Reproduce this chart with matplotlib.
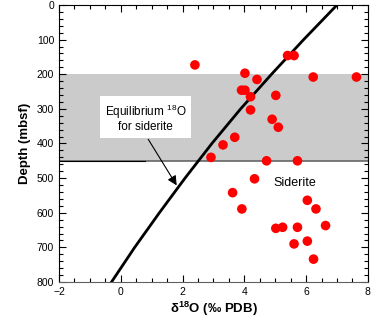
import matplotlib
matplotlib.use('Agg')
import matplotlib.pyplot as plt
from matplotlib.ticker import MultipleLocator

plt.rcParams['font.family'] = ['Liberation Sans', 'DejaVu Sans']
plt.rcParams['mathtext.fontset'] = 'custom'
plt.rcParams['mathtext.rm'] = 'Liberation Sans'
plt.rcParams['mathtext.bf'] = 'Liberation Sans:bold'

# siderite samples: d18O (permil PDB) vs depth (mbsf)
d18o  = [2.40, 5.40, 5.61, 4.02, 4.41, 6.23, 7.63, 3.91, 4.02, 4.20,
         5.02, 4.20, 4.90, 5.10, 3.69, 3.31, 2.92, 4.72, 5.72, 4.33,
         3.62, 3.92, 6.04, 6.32, 5.02, 5.24, 5.72, 6.63, 5.61, 6.04, 6.24]
depth = [173, 146, 146, 197, 215, 208, 208, 246, 246, 265,
         261, 303, 330, 353, 382, 404, 440, 450, 450, 502,
         542, 589, 564, 589, 645, 642, 642, 637, 690, 682, 734]

# equilibrium d18O curve for siderite
eq_x     = [7.0, 5.92, 4.88, 3.88, 2.95, 2.08, 1.25, 0.45, -0.3]
eq_depth = [0, 100, 200, 300, 400, 500, 600, 700, 800]

zone_top, zone_base = 200, 450

fig = plt.figure(figsize=(3.82, 3.23), dpi=100)
ax = fig.add_axes([0.1545, 0.127, 0.8085, 0.8575])

ax.axhspan(zone_top, zone_base, color='#cbcbcb', lw=0, zorder=0)
ax.axhline(zone_base, color='#666666', lw=1.2, zorder=1)
ax.plot([-2, 0.78], [zone_base, zone_base], color='black', lw=0.8, zorder=1)

ax.plot(eq_x, eq_depth, color='black', lw=2, zorder=2)
ax.scatter(d18o, depth, s=48, color='#ff0000', edgecolors='none', zorder=3)

ax.text(0.80, 326, 'Equilibrium $^{18}$O\nfor siderite', ha='center', va='center',
        fontsize=8.5, linespacing=1.05,
        bbox=dict(facecolor='white', edgecolor='none', pad=3.5))
ax.annotate('', xy=(1.81, 521), xytext=(0.89, 388),
            arrowprops=dict(arrowstyle='-|>', color='black', lw=0.8,
                            mutation_scale=14, shrinkA=0, shrinkB=0))
ax.text(4.93, 514, 'Siderite', ha='left', va='center', fontsize=9)

ax.set_xlim(-2, 8)
ax.set_ylim(800, 0)
ax.xaxis.set_major_locator(MultipleLocator(2))
ax.xaxis.set_minor_locator(MultipleLocator(0.5))
ax.yaxis.set_major_locator(MultipleLocator(100))
ax.yaxis.set_minor_locator(MultipleLocator(20))
ax.tick_params(which='both', direction='in', top=True, right=True, labelsize=7.5)
ax.tick_params(which='major', length=5, width=0.8)
ax.tick_params(which='minor', length=3, width=0.8)
ax.spines['bottom'].set_color('#606060')

ax.set_xlabel('δ$^{\\mathbf{18}}$O (‰ PDB)', fontsize=9.5, fontweight='bold', labelpad=2)
ax.set_ylabel('Depth (mbsf)', fontsize=9.5, fontweight='bold', labelpad=4)

fig.savefig('out.png', dpi=100)
